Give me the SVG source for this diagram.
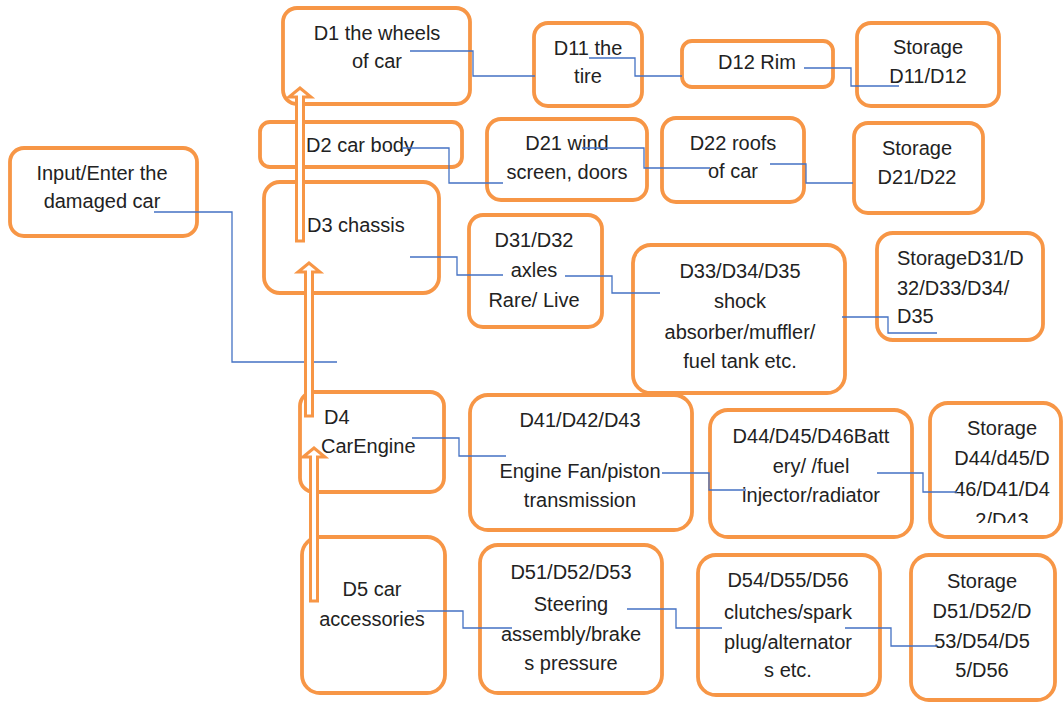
<svg xmlns="http://www.w3.org/2000/svg" width="1063" height="702" viewBox="0 0 1063 702">
<style>
.box{fill:#fff;stroke:#F79646;stroke-width:3.8}
.t{font-family:"Liberation Sans",Arial,sans-serif;font-size:20px;fill:#222;text-anchor:middle}
.tl{text-anchor:start}
.c{fill:none;stroke:#4472C4;stroke-width:1.3}
.ar{fill:#fff;stroke:#F79646;stroke-width:3;stroke-linejoin:miter}
</style>
<defs>
<clipPath id="clipS4"><rect x="925" y="400" width="138" height="123"/></clipPath>
</defs>
<rect width="1063" height="702" fill="#fff"/>
<g id="input"><rect class="box" x="10" y="148" width="187" height="88" rx="14"/><text class="t" x="102" y="180">Input/Enter the</text><text class="t" x="102" y="208">damaged car</text></g>
<g id="d1"><rect class="box" x="283" y="8" width="187" height="96" rx="14"/><text class="t" x="377" y="40">D1 the wheels</text><text class="t" x="377" y="68">of car</text></g>
<g id="d11"><rect class="box" x="534" y="23" width="108" height="83" rx="14"/><text class="t" x="588" y="55">D11 the</text><text class="t" x="588" y="83">tire</text></g>
<g id="d12"><rect class="box" x="682" y="41" width="151" height="46" rx="10"/><text class="t" x="757" y="69">D12 Rim</text></g>
<g id="s1"><rect class="box" x="857" y="23" width="142" height="83" rx="14"/><text class="t" x="928" y="54">Storage</text><text class="t" x="928" y="83">D11/D12</text></g>
<g id="d2"><rect class="box" x="260" y="122" width="202" height="45" rx="10"/><text class="t" x="360" y="152">D2 car body</text></g>
<g id="d21"><rect class="box" x="487" y="119" width="160" height="81" rx="14"/><text class="t" x="567" y="150">D21 wind</text><text class="t" x="567" y="179">screen, doors</text></g>
<g id="d22"><rect class="box" x="662" y="118" width="142" height="84" rx="14"/><text class="t" x="733" y="150">D22 roofs</text><text class="t" x="733" y="178">of car</text></g>
<g id="s2"><rect class="box" x="854" y="123" width="129" height="90" rx="14"/><text class="t" x="917" y="155">Storage</text><text class="t" x="917" y="184">D21/D22</text></g>
<g id="d3"><rect class="box" x="264" y="182" width="175" height="111" rx="16"/><text class="t tl" x="307" y="232">D3 chassis</text></g>
<g id="d31"><rect class="box" x="469" y="215" width="133" height="112" rx="14"/><text class="t" x="534" y="247">D31/D32</text><text class="t" x="534" y="277">axles</text><text class="t" x="534" y="307">Rare/ Live</text></g>
<g id="d33"><rect class="box" x="633" y="245" width="212" height="148" rx="18"/><text class="t" x="740" y="278">D33/D34/D35</text><text class="t" x="740" y="308">shock</text><text class="t" x="740" y="339">absorber/muffler/</text><text class="t" x="740" y="368">fuel tank etc.</text></g>
<g id="s3"><rect class="box" x="877" y="233" width="166" height="107" rx="16"/><text class="t tl" x="897" y="265">StorageD31/D</text><text class="t tl" x="897" y="295">32/D33/D34/</text><text class="t tl" x="897" y="323">D35</text></g>
<g id="d4"><rect class="box" x="300" y="392" width="144" height="100" rx="14"/><text class="t tl" x="324" y="424">D4</text><text class="t tl" x="321" y="453">CarEngine</text></g>
<g id="d41"><rect class="box" x="470" y="395" width="222" height="135" rx="18"/><text class="t" x="580" y="427">D41/D42/D43</text><text class="t" x="580" y="478">Engine Fan/piston</text><text class="t" x="580" y="507">transmission</text></g>
<g id="d44"><rect class="box" x="710" y="410" width="202" height="127" rx="18"/><text class="t" x="811" y="443">D44/D45/D46Batt</text><text class="t" x="811" y="473">ery/ /fuel</text><text class="t" x="811" y="502">injector/radiator</text></g>
<g id="s4"><rect class="box" x="930" y="403" width="131" height="134" rx="18"/><g clip-path="url(#clipS4)"><text class="t" x="1002" y="435">Storage</text><text class="t" x="1002" y="465">D44/d45/D</text><text class="t" x="1002" y="496">46/D41/D4</text><text class="t" x="1002" y="527">2/D43</text></g></g>
<g id="d5"><rect class="box" x="302" y="537" width="143" height="156" rx="18"/><text class="t" x="372" y="596">D5 car</text><text class="t" x="372" y="626">accessories</text></g>
<g id="d51"><rect class="box" x="480" y="545" width="182" height="148" rx="18"/><text class="t" x="571" y="579">D51/D52/D53</text><text class="t" x="571" y="611">Steering</text><text class="t" x="571" y="641">assembly/brake</text><text class="t" x="571" y="670">s pressure</text></g>
<g id="d54"><rect class="box" x="698" y="555" width="182" height="140" rx="18"/><text class="t" x="788" y="587">D54/D55/D56</text><text class="t" x="788" y="619">clutches/spark</text><text class="t" x="788" y="649">plug/alternator</text><text class="t" x="788" y="677">s etc.</text></g>
<g id="s5"><rect class="box" x="911" y="555" width="144" height="145" rx="18"/><text class="t" x="982" y="588">Storage</text><text class="t" x="982" y="618">D51/D52/D</text><text class="t" x="982" y="648">53/D54/D5</text><text class="t" x="982" y="677">5/D56</text></g>
<g id="connectors">
<polyline class="c" points="154,212 232,212 232,362 337,362"/>
<polyline class="c" points="410,51 473,51 473,76 535,76"/>
<polyline class="c" points="589,58 635,58 635,76 682,76"/>
<polyline class="c" points="804,68 851,68 851,86 899,86"/>
<polyline class="c" points="403,148 449,148 449,183 503,183"/>
<polyline class="c" points="582,148 644,148 644,168 710,168"/>
<polyline class="c" points="770,164 806,164 806,183 853,183"/>
<polyline class="c" points="410,257 457,257 457,275 503,275"/>
<polyline class="c" points="565,276 612,276 612,293 660,293"/>
<polyline class="c" points="842,317 888,317 888,333 937,333"/>
<polyline class="c" points="412,438 459,438 459,456 506,456"/>
<polyline class="c" points="662,473 709,473 709,490 746,490"/>
<polyline class="c" points="877,473 923,473 923,492 957,492"/>
<polyline class="c" points="417,611 463,611 463,628 512,628"/>
<polyline class="c" points="627,609 676,609 676,628 722,628"/>
<polyline class="c" points="845,628 891,628 891,646 937,646"/>
</g>
<g id="arrows">
<path class="ar" d="M296.5,241 L296.5,97 L289,97 L300,88 L311,97 L303.5,97 L303.5,241 Z"/>
<path class="ar" d="M305.5,416 L305.5,272 L298,272 L309,263 L320,272 L312.5,272 L312.5,416 Z"/>
<path class="ar" d="M310.5,601 L310.5,457 L303,457 L314,448 L325,457 L317.5,457 L317.5,601 Z"/>
</g>
</svg>
